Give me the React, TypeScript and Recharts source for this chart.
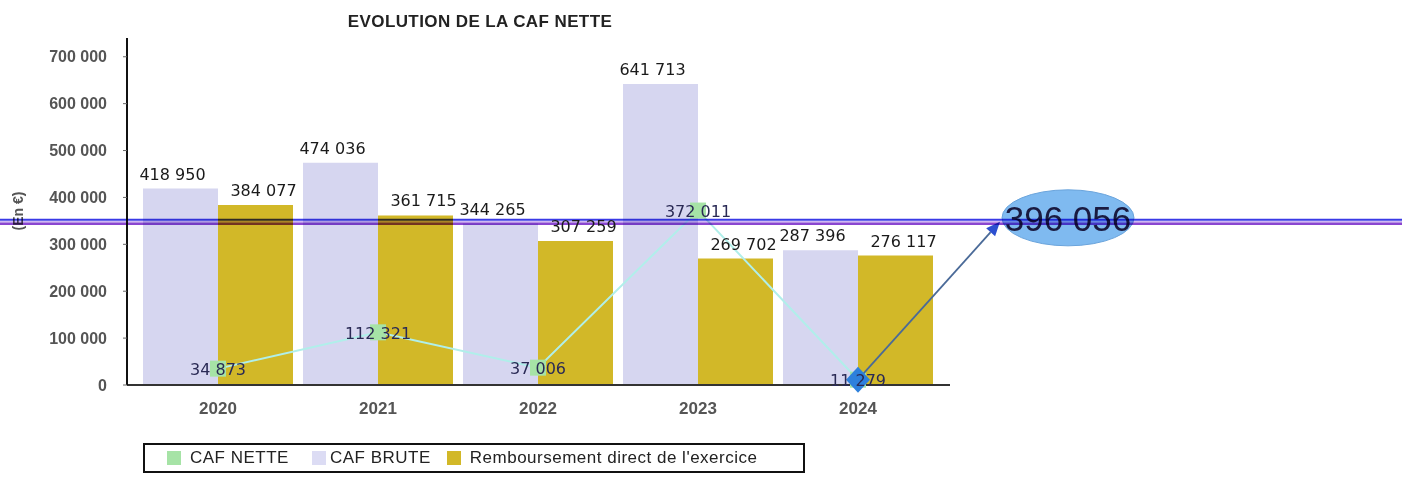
import { ComposedChart, Bar, Line, XAxis, YAxis, LabelList, ReferenceLine } from 'recharts';

const ANNEES = ['2020', '2021', '2022', '2023', '2024'];
const CAF_BRUTE = [418950, 474036, 344265, 641713, 287396];
const REMBOURSEMENT = [384077, 361715, 307259, 269702, 276117];
const CAF_NETTE = [34873, 112321, 37006, 372011, 11279];
const Y_TICKS = [0, 100000, 200000, 300000, 400000, 500000, 600000, 700000];
// annotations ajoutées à la main sur le graphique
const LIGNE_REPERE = 348000;
const VALEUR_BULLE = 396056;

const CHART_W = 1402;
const CHART_H = 477;

const data = ANNEES.map((annee, i) => ({
  annee,
  cafBrute: CAF_BRUTE[i],
  remboursement: REMBOURSEMENT[i],
  cafNette: CAF_NETTE[i],
}));

const fmt = (n: number) => String(n).replace(/\B(?=(\d{3})+(?!\d))/g, ' ');

const etiquetteBarre = (dx: number) => (props: any) => {
  const { x, y, width, value } = props;
  return (
    <text
      x={Number(x) + Number(width) / 2 + dx}
      y={Number(y) - 9}
      textAnchor="middle"
      fontFamily="DejaVu Sans"
      fontSize={16}
      fill="#1a1a1a"
    >
      {fmt(Number(value))}
    </text>
  );
};

const etiquetteLigne = (props: any) => {
  const { x, y, value } = props;
  return (
    <text
      x={Number(x)}
      y={Number(y) + 1}
      textAnchor="middle"
      dominantBaseline="central"
      fontFamily="DejaVu Sans"
      fontSize={16}
      fill="#2a2a55"
    >
      {fmt(Number(value))}
    </text>
  );
};

const PointCarre = (props: any) => {
  const { cx, cy, index } = props;
  if (cx == null || cy == null) return null;
  return <rect key={index} x={cx - 8} y={cy - 8} width={16} height={16} fill="#a6e3a6" />;
};

const Fleche = (props: any) => {
  const { x1, y1, x2, y2 } = props;
  const ex = x2 + 142;
  const ey = y2;
  const ang = Math.atan2(ey - y1, ex - x1);
  const L = 14;
  const W = 6;
  const bx = ex - L * Math.cos(ang);
  const by = ey - L * Math.sin(ang);
  const px = -Math.sin(ang) * W;
  const py = Math.cos(ang) * W;
  return (
    <g>
      <line x1={x1} y1={y1} x2={bx} y2={by} stroke="#4a6a98" strokeWidth={1.8} />
      <polygon points={`${ex},${ey} ${bx + px},${by + py} ${bx - px},${by - py}`} fill="#2b4fd0" />
      <path d={`M${x1},${y1 - 13} L${x1 + 12},${y1} L${x1},${y1 + 13} L${x1 - 12},${y1} Z`} fill="#2d80dc" />
    </g>
  );
};

const Bandeau = (props: any) => {
  const { y1, x2 } = props;
  const cx = x2 + 118;
  return (
    <g>
      <ellipse cx={cx} cy={y1 - 4} rx={66} ry={28} fill="#7fbaf0" stroke="#6aa4dc" />
      <text x={cx} y={y1 + 9} textAnchor="middle" fontFamily="Liberation Sans" fontSize={35} fill="#1a1a40">
        {fmt(VALEUR_BULLE)}
      </text>
      <g style={{ mixBlendMode: 'multiply' }}>
        <line x1={0} x2={CHART_W} y1={y1 - 2} y2={y1 - 2} stroke="#3a3ae6" strokeWidth={2} />
        <line x1={0} x2={CHART_W} y1={y1} y2={y1} stroke="#cdb8f2" strokeWidth={1.5} />
        <line x1={0} x2={CHART_W} y1={y1 + 2} y2={y1 + 2} stroke="#8a46d0" strokeWidth={2.5} />
      </g>
    </g>
  );
};

const carre = (c: string, mr: number) => ({ display: 'inline-block', width: 14, height: 14, background: c, marginRight: mr });

export default function App() {
  return (
    <div style={{ position: 'absolute', left: 0, top: 0, width: CHART_W, height: CHART_H, background: '#fff', fontFamily: 'Liberation Sans, Arial, sans-serif' }}>
      <div style={{ position: 'absolute', left: 280, top: 12, width: 400, textAlign: 'center', fontSize: 17, fontWeight: 900, color: '#222', letterSpacing: 0.4 }}>
        EVOLUTION DE LA CAF NETTE
      </div>
      <div style={{ position: 'absolute', left: -12, top: 203, width: 60, textAlign: 'center', transform: 'rotate(-90deg)', fontSize: 14, fontWeight: 'bold', color: '#555' }}>
        (En €)
      </div>
      <ComposedChart
        width={CHART_W}
        height={CHART_H}
        data={data}
        margin={{ top: 38, right: 452, left: 47, bottom: 62 }}
        barCategoryGap={5}
        barGap={0}
      >
        <XAxis
          dataKey="annee"
          height={30}
          padding={{ left: 11, right: 12 }}
          axisLine={{ stroke: '#333', strokeWidth: 2 }}
          tickLine={false}
          tickSize={0}
          tickMargin={17}
          tick={{ fill: '#555', fontSize: 17, fontWeight: 'bold', fontFamily: 'Liberation Sans' }}
        />
        <YAxis
          width={80}
          domain={[0, 740000]}
          ticks={Y_TICKS}
          tickFormatter={fmt}
          axisLine={{ stroke: '#111', strokeWidth: 2 }}
          tickLine={{ stroke: '#666' }}
          tickSize={4}
          tickMargin={16}
          tick={{ fill: '#555', fontSize: 16, fontWeight: 'bold', fontFamily: 'Liberation Sans' }}
        />
        <Bar dataKey="cafBrute" name="CAF BRUTE" fill="#d6d6f0" isAnimationActive={false}>
          <LabelList dataKey="cafBrute" content={etiquetteBarre(-8)} />
        </Bar>
        <Bar dataKey="remboursement" name="Remboursement direct de l'exercice" fill="#d2b828" isAnimationActive={false}>
          <LabelList dataKey="remboursement" content={etiquetteBarre(8)} />
        </Bar>
        <Line
          type="linear"
          dataKey="cafNette"
          name="CAF NETTE"
          stroke="#b0efea"
          strokeWidth={2}
          dot={PointCarre}
          activeDot={false}
          isAnimationActive={false}
        >
          <LabelList dataKey="cafNette" content={etiquetteLigne} />
        </Line>
        <ReferenceLine
          segment={[{ x: '2024', y: CAF_NETTE[4] }, { x: '2024', y: LIGNE_REPERE }]}
          shape={Fleche}
          ifOverflow="visible"
          zIndex={1000}
        />
        <ReferenceLine y={LIGNE_REPERE} shape={Bandeau} ifOverflow="visible" zIndex={1001} />
      </ComposedChart>
      <div
        style={{
          position: 'absolute',
          left: 143,
          top: 443,
          width: 662,
          height: 30,
          border: '2px solid #111',
          display: 'flex',
          alignItems: 'center',
          fontSize: 17,
          letterSpacing: 0.5,
          color: '#222',
          paddingLeft: 22,
          boxSizing: 'border-box',
        }}
      >
        <span style={carre('#a6e3a6', 9)} />
        <span style={{ marginRight: 23 }}>CAF NETTE</span>
        <span style={carre('#dcdcf4', 4)} />
        <span style={{ marginRight: 16 }}>CAF BRUTE</span>
        <span style={carre('#d2b828', 9)} />
        <span>Remboursement direct de l'exercice</span>
      </div>
    </div>
  );
}
